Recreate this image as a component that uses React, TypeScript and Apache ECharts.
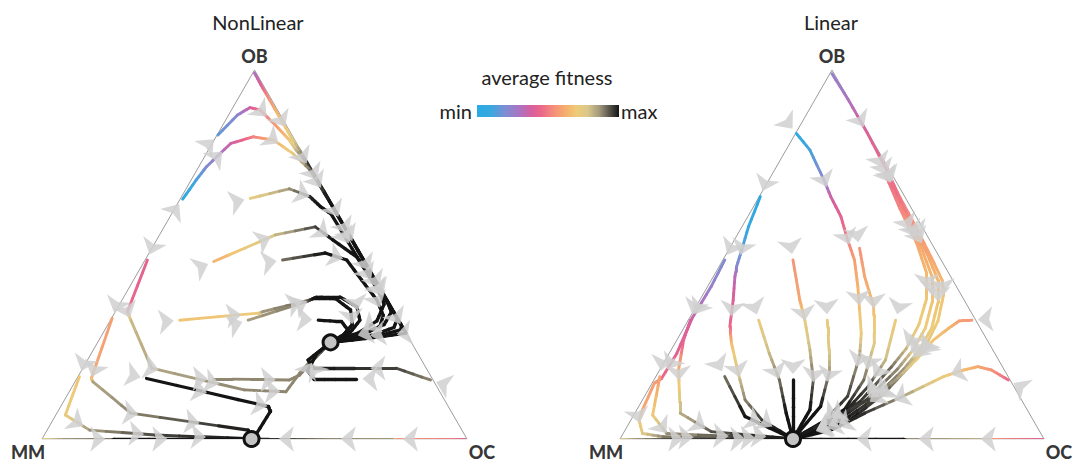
import React, { useEffect, useRef } from "react";
import * as echarts from "echarts";

// Each point: [position along the MM→OC axis (%), OB share (%), average fitness 0..1]
type Pt = [number, number, number];

const titles = ["NonLinear", "Linear"];
const vertexNames = ["MM", "OC", "OB"];
const legendTitle = "average fitness";
const legendEnds = ["min", "max"];

const fitnessStops: [number, string][] = [
  [0, "#29abe2"], [0.1, "#3aa7e0"], [0.2, "#7f8dd2"], [0.3, "#ab73c2"],
  [0.38, "#d5609f"], [0.45, "#ea6789"], [0.55, "#f5937a"], [0.62, "#f5ad6c"],
  [0.7, "#eecb78"], [0.78, "#d9c78a"], [0.86, "#a49a7e"], [0.93, "#5a574e"], [1, "#141414"],
];

const nonLinearPaths: Pt[][] = [
  [[50,99.2,0.3],[51.5,96,0.4],[53.5,92,0.55],[56,87,0.66],[58.5,82,0.72],[60.8,78,0.86],[62.3,75,0.97],[70.4,59,1],[78.2,43.5,1],[84.4,31.2,1],[85.6,28.7,1],[79,27.6,1],[73,26.8,1],[67.9,26.2,1]],
  [[41.4,82.4,0.15],[46,87.8,0.22],[48.9,89.8,0.36],[51.3,89.2,0.48],[54.9,85.1,0.56],[58.2,81,0.68],[59.8,78.3,0.8],[61.8,75.6,0.95],[66.4,67,1],[74.4,51,1],[82.4,35,1],[84.6,30.6,1],[84.4,29.6,1],[79,27.9,1],[73,26.9,1],[67.9,26.2,1]],
  [[33.1,65,0.03],[36.3,70.2,0.12],[38.7,73.8,0.2],[44.4,80.1,0.36],[49.7,81.9,0.5],[54.5,81,0.63],[59,77.4,0.72],[63,73,0.9],[67.6,64.5,1],[75.6,48.5,1],[83.6,32.6,1],[82.8,30.2,1],[78,28.2,1],[72.5,27.1,1],[67.9,26.2,1]],
  [[49,65.2,0.72],[58.2,67.8,0.86],[63,65.7,0.98],[65.5,63,1],[68,61,1],[74.6,48.5,1],[81.5,36.5,1],[82.2,34.4,1],[80.5,31,1],[76,28.6,1],[67.9,26.2,1]],
  [[40.4,48.1,0.62],[54.9,55.3,0.8],[64.3,57.5,0.95],[68.5,53.9,1],[74.1,49.3,1],[79.5,39.5,1],[80.5,36.5,1],[78.8,32,1],[74.5,28.8,1],[67.9,26.2,1]],
  [[56.6,48.5,0.9],[66.6,50.4,1],[71.7,48.5,1],[75.2,43.1,1],[78.8,37.7,1],[80.3,33.5,1],[79.5,30.5,1],[74,28,1],[67.9,26.2,1]],
  [[32.4,32.2,0.68],[50.9,34.1,0.7],[52,34.5,0.86],[63,37.7,0.92],[64.5,38.4,1],[70.1,38.5,1],[74.1,35.8,1],[74.8,32.2,1],[72.4,28.7,1],[67.9,26.2,1]],
  [[48.5,32.2,0.85],[62.2,37.2,0.9],[63.9,38.1,1],[69.1,38,1],[72.6,35,1],[73,31,1],[71,28.3,1],[67.9,26.2,1]],
  [[65,32.2,1],[70.5,31.8,1],[72,29.5,1],[70.3,27.5,1],[67.9,26.2,1]],
  [[24.8,48.5,0.42],[20.1,34.5,0.45],[20.9,32.2,0.8],[25.8,19.2,0.84],[47.6,13.3,0.88],[57.4,12.8,0.88],[60.6,17.8,0.88],[64.7,23.2,0.9],[67.9,26.2,0.95]],
  [[40.4,16.3,0.88],[58.2,16,0.88],[60.6,17.3,0.88],[63.5,21,0.9],[67.9,26.2,0.95]],
  [[16.5,32.7,0.58],[11.6,16.4,0.6],[12,15.5,0.84],[20.9,7,0.88],[48.5,2.4,1],[49.3,0,1]],
  [[24.6,16.4,1],[53.3,8.8,1],[53.7,7.4,1],[50.5,1.5,1],[49.3,0,1]],
  [[8.8,16.9,0.68],[5.5,6.5,0.72],[11.2,2.4,0.86],[26.6,1.1,0.95],[49.3,0,1]],
  [[0.3,0,0.72],[5,0,0.86],[16.5,0,0.9],[17,0,1],[49.3,0,1]],
  [[99.5,0,0.42],[96,0,0.5],[83,0,0.56],[82.5,0,0.86],[66.3,0,0.88],[57.4,0,0.95],[49.3,0,1]],
  [[91.4,16,0.88],[83.3,19.2,0.95],[63.9,19.2,1],[62.6,21.4,1],[67.9,26.2,1]],
  [[74,16.3,1],[64,16.3,1],[62.5,18.5,1],[64.7,23.2,1],[67.9,26.2,1]],
];

const linearPaths: Pt[][] = [
  [[50,99,0.25],[53.8,92,0.3],[58.3,83,0.4],[63.5,71.5,0.45],[66,65.5,0.5],[70,57,0.55],[73.5,49,0.6],[76,43,0.64],[76.3,39,0.68],[75,32,0.7],[72,25,0.75],[68.5,20,0.84],[62,12,0.93],[54,5,1],[40.8,0,1]],
  [[64.5,68,0.45],[68.5,59,0.52],[72.5,50,0.6],[75,43,0.65],[75,37,0.68],[73.5,30,0.7],[70.5,24,0.76],[67,19,0.86],[60,11,0.95],[52,4.5,1],[40.8,0,1]],
  [[63.5,70,0.45],[67,61,0.52],[71,52,0.6],[73.6,44,0.65],[73.6,37,0.68],[72,30,0.7],[69,24,0.77],[65.5,19,0.87],[58,10.5,0.96],[50,4,1],[40.8,0,1]],
  [[62.5,72,0.45],[66,62.5,0.52],[70,53,0.6],[72.3,45,0.65],[72.3,38,0.68],[70.5,31,0.71],[67.5,24.5,0.8],[64,19.5,0.9],[56.5,10,0.97],[48.5,3.5,1],[40.8,0,1]],
  [[41.6,82.8,0.03],[44.8,78.3,0.12],[48.1,70.2,0.22],[49.7,65.7,0.36],[52.1,60.3,0.42],[53.7,53.9,0.5],[55.3,48.5,0.58],[56.1,41.3,0.63],[56.9,28.6,0.72],[56.5,22.3,0.85],[53.7,11.6,0.95],[48,4.5,1],[40.8,0,1]],
  [[56.5,51.7,0.55],[57.7,44,0.6],[59.8,36,0.66],[60,26,0.74],[57.5,16,0.9],[53,8,1],[40.8,0,1]],
  [[33.1,65.7,0.02],[30.3,57.5,0.08],[28.7,51.2,0.15],[27.5,46.7,0.22],[27.1,44,0.32],[26.7,37.7,0.4],[25.9,30.4,0.44],[26.3,25.9,0.65],[27.9,17.8,0.78],[29.5,10.6,0.88],[33.5,5.1,0.96],[39.2,1.1,1],[40.8,0,1]],
  [[24.7,48.5,0.2],[21.5,41.3,0.25],[17,32.7,0.35],[13.4,23.2,0.42],[9.8,16.4,0.45],[8.1,15.1,0.58],[5.3,7.9,0.6],[4.5,5.1,0.66],[5.3,1.5,0.76],[10.2,0.6,0.88],[40.8,0,1]],
  [[16.6,32.2,0.38],[15,26.8,0.42],[13.8,18.7,0.62],[14.2,7,0.82],[21.5,2,0.93],[40.8,0,1]],
  [[9.4,16.9,0.58],[7.7,6.5,0.7],[11,1.5,0.86],[40.8,0,1]],
  [[40.8,48.5,0.55],[42.4,37.7,0.6],[43.6,32.2,0.72],[44.8,24.1,0.8],[45.6,16,0.92],[44.8,7.9,1],[40.8,0,1]],
  [[32.7,32.2,0.72],[35.2,23.2,0.8],[37.6,16,0.9],[39.2,7,1],[40.8,0,1]],
  [[48.9,32.2,0.72],[49.3,24.1,0.76],[49.3,17.8,0.86],[47.3,8.8,1],[40.8,0,1]],
  [[65,32.2,0.7],[62.6,21.4,0.8],[58.5,14.2,0.95],[52.1,6.1,1],[40.8,0,1]],
  [[24.7,16.9,0.9],[29.5,6.1,1],[40.8,0,1]],
  [[40.8,16,1],[40.8,6.1,1],[40.8,0,1]],
  [[83,32.2,0.56],[80,32,0.58],[77.5,30,0.64],[73.9,26.8,0.68],[69.8,21.4,0.72],[65,16,0.85],[58.5,10.6,0.95],[40.8,0,1]],
  [[91.6,16,0.45],[87.6,18.7,0.55],[84.4,19.6,0.6],[81.1,18.7,0.66],[76.3,16.9,0.7],[66.6,11.5,0.85],[57.7,7,0.97],[49.7,2.4,1],[40.8,0,1]],
  [[99.7,0,0.42],[96.5,0,0.45],[87.6,0,0.56],[87,0,0.82],[67.4,0,0.88],[66.8,0,1],[40.8,0,1]],
  [[0.3,0,0.76],[4,0,0.86],[12,0,0.95],[40.8,0,1]],
];

const nonLinearStable: [number, number][] = [[67.9, 26.2], [49.3, 0]];
const linearStable: [number, number][] = [[40.8, 0]];

const FONT = "Lato, 'Noto Sans', sans-serif";
const boxes = [
  { left: 42, top: 70, width: 425, height: 369 },
  { left: 620, top: 70, width: 424, height: 369 },
];

function hexRgb(h: string) {
  const n = parseInt(h.slice(1), 16);
  return [(n >> 16) & 255, (n >> 8) & 255, n & 255];
}
function colorAt(t: number) {
  const v = Math.max(0, Math.min(1, t));
  for (let i = 0; i < fitnessStops.length - 1; i++) {
    const [t0, c0] = fitnessStops[i];
    const [t1, c1] = fitnessStops[i + 1];
    if (v >= t0 && v <= t1) {
      const f = (v - t0) / (t1 - t0 || 1);
      const a = hexRgb(c0), b = hexRgb(c1);
      const m = a.map((x, k) => Math.round(x + (b[k] - x) * f));
      return `rgb(${m[0]},${m[1]},${m[2]})`;
    }
  }
  return fitnessStops[fitnessStops.length - 1][1];
}

function segmentData(paths: Pt[][]) {
  const out: any[] = [];
  const SUB = 4;
  for (const path of paths) {
    for (let i = 0; i < path.length - 1; i++) {
      const a = path[i], b = path[i + 1];
      for (let k = 0; k < SUB; k++) {
        const f0 = k / SUB, f1 = (k + 1) / SUB;
        const p0 = [a[0] + (b[0] - a[0]) * f0, a[1] + (b[1] - a[1]) * f0];
        const p1 = [a[0] + (b[0] - a[0]) * f1, a[1] + (b[1] - a[1]) * f1];
        const t = a[2] + (b[2] - a[2]) * (f0 + f1) / 2;
        out.push({ coords: [p0, p1], lineStyle: { color: colorAt(t), width: t > 0.97 ? 3.3 : 2.9 } });
      }
    }
  }
  return out;
}

function arrowMarks(paths: Pt[][], kx: number, ky: number) {
  const marks: any[] = [];
  const SPACING = 62;
  for (const path of paths) {
    const s = path.map((q) => [q[0] * kx, -q[1] * ky]);
    const segs: any[] = [];
    let total = 0;
    for (let i = 0; i < s.length - 1; i++) {
      const dx = s[i + 1][0] - s[i][0], dy = s[i + 1][1] - s[i][1];
      const L = Math.hypot(dx, dy);
      if (L < 1e-6) continue;
      segs.push({ x: s[i][0], y: s[i][1], dx: dx / L, dy: dy / L, L, start: total });
      total += L;
    }
    if (!segs.length) continue;
    const put = (px: number, py: number, ux: number, uy: number) =>
      marks.push({ value: [px / kx, -py / ky], symbolRotate: (-Math.atan2(ux, -uy) * 180) / Math.PI });
    const f = segs[0];
    put(f.x - f.dx * 6, f.y - f.dy * 6, f.dx, f.dy);
    for (let d = SPACING; d < total - 24; d += SPACING) {
      const sg = segs.find((g) => d >= g.start && d <= g.start + g.L) || segs[segs.length - 1];
      const u = d - sg.start;
      put(sg.x + sg.dx * u, sg.y + sg.dy * u, sg.dx, sg.dy);
    }
  }
  return marks;
}

function plotSeries(idx: number, paths: Pt[][], stable: [number, number][]) {
  const kx = boxes[idx].width / 100, ky = boxes[idx].height / 100;
  const labelBase = { show: true, fontFamily: FONT, fontWeight: 900 as any, fontSize: 18, color: "#000" };
  return [
    {
      type: "lines", coordinateSystem: "cartesian2d", xAxisIndex: idx, yAxisIndex: idx, polyline: true, silent: true, z: 1,
      lineStyle: { color: "#9c9c9c", width: 1, opacity: 1 },
      data: [{ coords: [[0, 0], [100, 0], [50, 100], [0, 0]] }],
    },
    {
      type: "lines", coordinateSystem: "cartesian2d", xAxisIndex: idx, yAxisIndex: idx, silent: true, z: 2,
      lineStyle: { opacity: 1, cap: "round", join: "round" },
      data: segmentData(paths),
    },
    {
      type: "scatter", xAxisIndex: idx, yAxisIndex: idx, silent: true, z: 3,
      symbol: "arrow", symbolSize: [19, 15],
      itemStyle: { color: "#d0d0d0", opacity: 0.85 },
      data: arrowMarks(paths, kx, ky),
    },
    {
      type: "scatter", xAxisIndex: idx, yAxisIndex: idx, silent: true, z: 4,
      symbolSize: 15, itemStyle: { color: "#c4c4c4", borderColor: "#111", borderWidth: 3, opacity: 1 },
      data: stable,
    },
    {
      type: "scatter", xAxisIndex: idx, yAxisIndex: idx, silent: true, z: 5,
      symbolSize: 0.1, itemStyle: { color: "transparent" },
      data: [
        { value: [0, 0], label: { ...labelBase, formatter: vertexNames[0], position: "bottom", distance: 4, offset: [-14, 0] } },
        { value: [100, 0], label: { ...labelBase, formatter: vertexNames[1], position: "bottom", distance: 4, offset: [15, 0] } },
        { value: [50, 100], label: { ...labelBase, formatter: vertexNames[2], position: "top", distance: 5 } },
      ],
    },
  ];
}

function buildOption() {
  const axisX = (i: number) => ({ type: "value", gridIndex: i, min: 0, max: 100, show: false });
  const axisY = (i: number) => ({ type: "value", gridIndex: i, min: 0, max: 100, show: false });
  const gradient = new echarts.graphic.LinearGradient(0, 0, 1, 0, fitnessStops.map(([o, c]) => ({ offset: o, color: c })));
  return {
    animation: false,
    backgroundColor: "#ffffff",
    grid: boxes.map((b) => ({ ...b, containLabel: false })),
    xAxis: [axisX(0), axisX(1)],
    yAxis: [axisY(0), axisY(1)],
    series: [...plotSeries(0, nonLinearPaths, nonLinearStable), ...plotSeries(1, linearPaths, linearStable)],
    graphic: [
      { type: "text", x: 258, y: 22, style: { text: titles[0], fontFamily: FONT, fontSize: 20, fill: "#222", align: "center", verticalAlign: "middle" } },
      { type: "text", x: 831, y: 22, style: { text: titles[1], fontFamily: FONT, fontSize: 20, fill: "#222", align: "center", verticalAlign: "middle" } },
      { type: "text", x: 547, y: 77, style: { text: legendTitle, fontFamily: FONT, fontSize: 20, fill: "#222", align: "center", verticalAlign: "middle" } },
      { type: "rect", shape: { x: 477, y: 105, width: 142, height: 12 }, style: { fill: gradient } },
      { type: "text", x: 472, y: 111, style: { text: legendEnds[0], fontFamily: FONT, fontSize: 20, fill: "#222", align: "right", verticalAlign: "middle" } },
      { type: "text", x: 621, y: 111, style: { text: legendEnds[1], fontFamily: FONT, fontSize: 20, fill: "#222", align: "left", verticalAlign: "middle" } },
    ],
  };
}

export default function App() {
  const ref = useRef<HTMLDivElement>(null);
  useEffect(() => {
    document.body.style.margin = "0";
    const chart = echarts.init(ref.current!, null, { renderer: "svg" });
    chart.setOption(buildOption() as any);
    return () => chart.dispose();
  }, []);
  return <div ref={ref} style={{ width: 1074, height: 463 }} />;
}
